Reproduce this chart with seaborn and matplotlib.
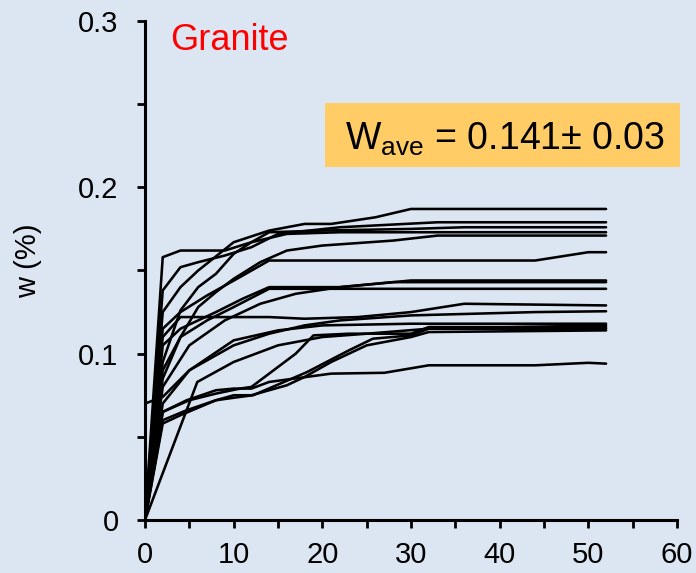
import matplotlib
matplotlib.use("Agg")
import matplotlib.pyplot as plt
from matplotlib.patches import Rectangle
from matplotlib.ticker import MultipleLocator
import seaborn as sns
import pandas as pd

# ---- data: each sample's time (x) and w (%) values ----
s01_x = [0, 2, 4, 6, 10, 14, 18, 21, 26, 30, 52]
s01_w = [0, 0.125, 0.14, 0.15, 0.167, 0.174, 0.178, 0.178, 0.182, 0.187, 0.187]
s02_x = [0, 2, 4, 9, 12, 16, 22, 52]
s02_w = [0, 0.158, 0.162, 0.162, 0.167, 0.172, 0.173, 0.173]
s03_x = [0, 2, 4, 6, 9, 12, 15, 22, 33, 52]
s03_w = [0, 0.138, 0.152, 0.155, 0.159, 0.164, 0.172, 0.176, 0.179, 0.179]
s04_x = [0, 2, 4, 6, 8, 10, 12, 14, 20, 30, 36, 52]
s04_w = [0, 0.095, 0.126, 0.14, 0.148, 0.16, 0.167, 0.173, 0.174, 0.175, 0.176, 0.176]
s05_x = [0, 2, 4, 6, 8, 10, 13, 16, 20, 28, 33, 52]
s05_w = [0, 0.085, 0.11, 0.128, 0.137, 0.145, 0.155, 0.162, 0.165, 0.168, 0.171, 0.171]
s06_x = [0, 2, 4, 7, 10.7, 14, 44, 50, 52]
s06_w = [0, 0.115, 0.125, 0.135, 0.146, 0.156, 0.156, 0.161, 0.161]
s07_x = [0, 2, 4, 8, 11, 14, 22, 30, 52]
s07_w = [0, 0.105, 0.115, 0.125, 0.133, 0.14, 0.14, 0.144, 0.144]
s08_x = [0, 2, 5, 9, 13, 17, 22, 28, 52]
s08_w = [0, 0.08, 0.105, 0.12, 0.13, 0.136, 0.14, 0.143, 0.143]
s09_x = [0, 2, 4, 7, 10, 14, 20, 52]
s09_w = [0, 0.09, 0.11, 0.12, 0.128, 0.139, 0.139, 0.139]
s10_x = [0, 2, 4, 8, 14, 18, 24, 30, 36, 52]
s10_w = [0, 0.11, 0.122, 0.122, 0.122, 0.121, 0.122, 0.125, 0.13, 0.129]
s11_x = [0, 2, 5, 10, 14, 18, 22, 30, 44, 52]
s11_w = [0, 0.07, 0.09, 0.105, 0.112, 0.117, 0.12, 0.123, 0.125, 0.1255]
s12_x = [0, 2, 5, 8, 10.7, 12, 17, 19, 23, 30, 32, 52]
s12_w = [0, 0.065, 0.072, 0.076, 0.079, 0.08, 0.1, 0.111, 0.112, 0.112, 0.116, 0.116]
s13_x = [0, 2, 4.7, 8, 10.7, 12.2, 17, 18.3, 23, 25.7, 30, 32, 52]
s13_w = [0, 0.06, 0.066, 0.072, 0.074, 0.075, 0.086, 0.089, 0.102, 0.109, 0.111, 0.115, 0.117]
s14_x = [0, 2, 4, 8, 10, 12, 16, 18, 21, 25, 30, 32, 52]
s14_w = [0, 0.058, 0.063, 0.072, 0.075, 0.075, 0.081, 0.086, 0.095, 0.105, 0.11, 0.113, 0.114]
s15_x = [0, 2, 4.7, 8, 10, 12, 14, 21, 27, 32, 44, 50, 52]
s15_w = [0, 0.065, 0.072, 0.078, 0.079, 0.079, 0.083, 0.088, 0.0885, 0.093, 0.093, 0.0945, 0.094]
s16_x = [0, 2, 5, 10, 15, 20, 30, 52]
s16_w = [0.07, 0.074, 0.09, 0.108, 0.114, 0.117, 0.118, 0.118]
s17_x = [0, 5.9, 10, 15, 20, 25, 32, 52]
s17_w = [0, 0.083, 0.095, 0.105, 0.11, 0.112, 0.115, 0.115]

series = {
    "s01": (s01_x, s01_w), "s02": (s02_x, s02_w), "s03": (s03_x, s03_w),
    "s04": (s04_x, s04_w), "s05": (s05_x, s05_w), "s06": (s06_x, s06_w),
    "s07": (s07_x, s07_w), "s08": (s08_x, s08_w), "s09": (s09_x, s09_w),
    "s10": (s10_x, s10_w), "s11": (s11_x, s11_w), "s12": (s12_x, s12_w),
    "s13": (s13_x, s13_w), "s14": (s14_x, s14_w), "s15": (s15_x, s15_w),
    "s16": (s16_x, s16_w), "s17": (s17_x, s17_w),
}

x_ticks = [0, 10, 20, 30, 40, 50, 60]
y_ticks = [0, 0.1, 0.2, 0.3]
y_tick_labels = ["0", "0.1", "0.2", "0.3"]
title_text = "Granite"
ylabel_text = "w (%)"

rows = []
for name, (xs, ws) in series.items():
    for xv, wv in zip(xs, ws):
        rows.append({"time": xv, "w": wv, "sample": name})
df = pd.DataFrame(rows)

bg = "#DCE6F2"
sns.set_theme(style="ticks")
plt.rcParams["font.family"] = ["Liberation Sans", "DejaVu Sans"]
plt.rcParams["mathtext.fontset"] = "custom"
plt.rcParams["mathtext.rm"] = "Liberation Sans"

fig = plt.figure(figsize=(6.96, 5.73), dpi=100, facecolor=bg)
ax = fig.add_axes([145 / 696, 53 / 573, 532 / 696, 499 / 573])
ax.set_facecolor(bg)

sns.lineplot(data=df, x="time", y="w", units="sample", estimator=None,
             sort=False, color="black", linewidth=1.85, ax=ax, legend=False)

ax.set_xlim(0, 60)
ax.set_ylim(0, 0.3)
ax.set_xticks(x_ticks)
ax.set_xticklabels([str(t) for t in x_ticks])
ax.set_yticks(y_ticks)
ax.set_yticklabels(y_tick_labels)
ax.xaxis.set_minor_locator(MultipleLocator(5))
ax.yaxis.set_minor_locator(MultipleLocator(0.05))

for side in ["top", "right"]:
    ax.spines[side].set_visible(False)
for side in ["left", "bottom"]:
    ax.spines[side].set_linewidth(2.2)
    ax.spines[side].set_color("black")
    ax.spines[side].set_capstyle("projecting")

ax.tick_params(axis="both", which="both", direction="out", length=6,
               width=2, color="black", labelsize=21, labelcolor="black")
ax.tick_params(axis="y", which="major", pad=13)
ax.tick_params(axis="x", which="major", pad=9)
ax.set_xlabel("")
ax.set_ylabel(ylabel_text, fontsize=21, color="black")
ax.yaxis.set_label_coords(-0.194, 0.519)

fig.text(170 / 696, 1 - 40 / 573, title_text, color="#FF0000", fontsize=26,
         ha="left", va="center")

box = Rectangle((325 / 696, 1 - 167 / 573), 355 / 696, 64 / 573,
                transform=fig.transFigure, facecolor="#FFCC66",
                edgecolor="none", zorder=5)
fig.patches.append(box)
fig.text(345 / 696, 1 - 150 / 573, r"W$_{\mathregular{ave}}$ = 0.141± 0.03",
         fontsize=27, ha="left", va="baseline", color="black", zorder=6)

fig.savefig("out.png", dpi=100, facecolor=bg)
